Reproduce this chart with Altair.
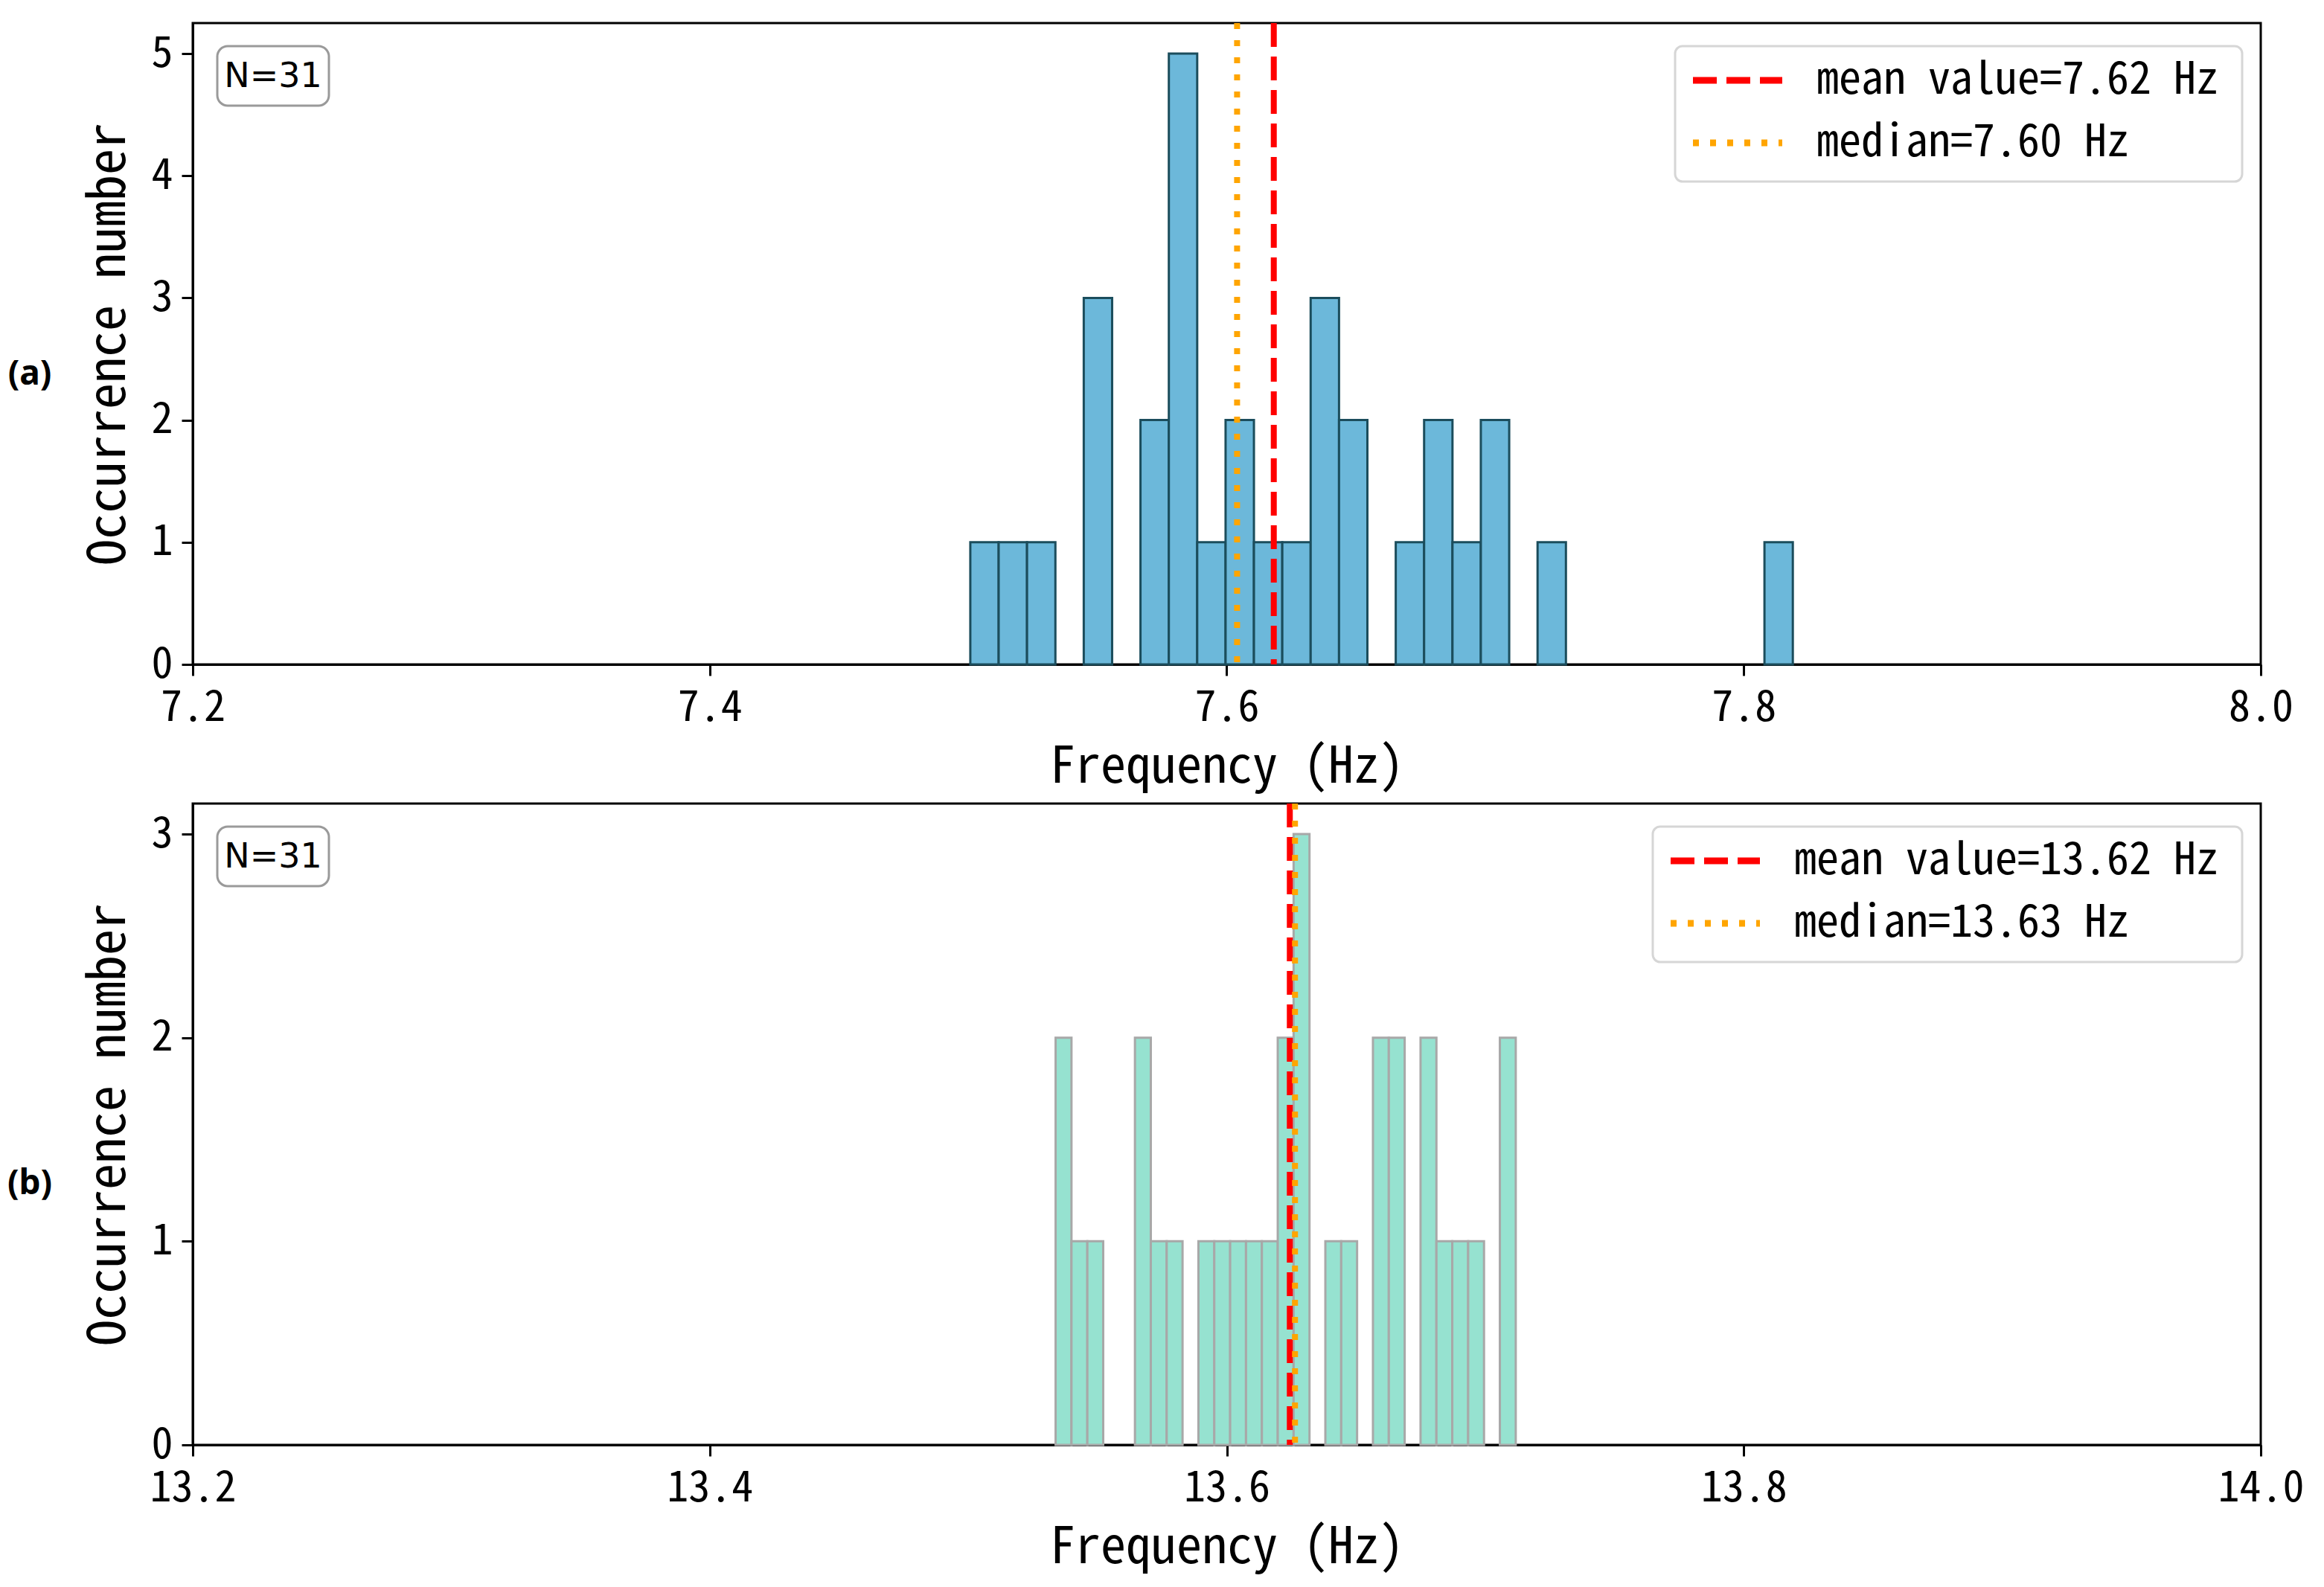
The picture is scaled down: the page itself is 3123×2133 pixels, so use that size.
import altair as alt
import pandas as pd

# ---------------- data ----------------
# panel (a)
a_bin_lo = 7.5008
a_bin_w = 0.010972
a_counts = [1, 1, 1, 0, 3, 0, 2, 5, 1, 2, 1, 1, 3, 2, 0, 1, 2, 1, 2, 0,
            1, 0, 0, 0, 0, 0, 0, 0, 1]
a_mean = 7.6182
a_median = 7.604
a_labels = ["mean value=7.62 Hz", "median=7.60 Hz"]
a_xdomain = [7.2, 8.0]
a_xticks = [7.2, 7.4, 7.6, 7.8, 8.0]
a_yticks = [0, 1, 2, 3, 4, 5]
a_ymax = 5.25

# panel (b)
b_bin_lo = 13.5338
b_bin_w = 0.006138
b_counts = [2, 1, 1, 0, 0, 2, 1, 1, 0, 1, 1, 1, 1, 1, 2, 3, 0, 1, 1, 0,
            2, 2, 0, 2, 1, 1, 1, 0, 2]
b_mean = 13.6244
b_median = 13.6264
b_labels = ["mean value=13.62 Hz", "median=13.63 Hz"]
b_xdomain = [13.2, 14.0]
b_xticks = [13.2, 13.4, 13.6, 13.8, 14.0]
b_yticks = [0, 1, 2, 3]
b_ymax = 3.15

n_label = "N=31"
y_title = "Occurrence number"
x_title = "Frequency (Hz)"
line_colors = ["#ff0000", "#ffa500"]
line_dashes = [[32, 13], [8, 15]]

# ---------------- style ----------------
W, H = 2779, 862
FONT = "Noto Sans Mono CJK SC, DejaVu Sans Mono, monospace"
CHAR_W = 30  # half-width glyph advance at the legend font size


def panel(bin_lo, bin_w, counts, mean, median, labels, xdom, xticks, yticks,
          ymax, fill, edge, tag, tag_y):
    hist = pd.DataFrame({
        "x0": [bin_lo + i * bin_w for i in range(len(counts))],
        "x1": [bin_lo + (i + 1) * bin_w for i in range(len(counts))],
        "count": counts,
    })
    hist = hist[hist["count"] > 0]

    xscale = alt.Scale(domain=xdom, nice=False, zero=False)
    yscale = alt.Scale(domain=[0, ymax], nice=False)

    xaxis = alt.Axis(values=xticks, format=".1f", title=x_title, grid=False,
                     labelFont=FONT, labelFontSize=58, labelColor="black",
                     titleFont=FONT, titleFontSize=68, titleFontWeight="normal",
                     titleColor="black", titlePadding=17, labelPadding=14,
                     tickSize=15, tickWidth=3, tickColor="black",
                     domainColor="black", domainWidth=3, labelFlush=False)
    yaxis = alt.Axis(values=yticks, format="d", title=y_title, grid=False,
                     labelFont=FONT, labelFontSize=58, labelColor="black",
                     titleFont=FONT, titleFontSize=70, titleFontWeight="normal",
                     titleColor="black", titlePadding=20, labelPadding=12,
                     tickSize=15, tickWidth=3, tickColor="black",
                     domainColor="black", domainWidth=3)

    bars = alt.Chart(hist).mark_bar(
        fill=fill, stroke=edge, strokeWidth=3, opacity=1
    ).encode(
        x=alt.X("x0:Q", scale=xscale, axis=xaxis),
        x2="x1:Q",
        y=alt.Y("count:Q", scale=yscale, axis=yaxis),
        y2=alt.datum(0),
    )

    layers = [bars]
    for val, col, dash in zip([mean, median], line_colors, line_dashes):
        layers.append(
            alt.Chart(pd.DataFrame({"x": [val]})).mark_rule(
                color=col, strokeWidth=8, strokeDash=dash
            ).encode(x=alt.X("x:Q", scale=xscale))
        )

    # legend box (top-right, inside the axes)
    box_r = W - 25
    box_l = box_r - (222 + max(len(s) for s in labels) * CHAR_W)
    layers.append(
        alt.Chart(pd.DataFrame({"t": ["legend"]})).mark_rect(
            fill="white", stroke="#d6d6d6", strokeWidth=3, cornerRadius=10
        ).encode(x=alt.value(box_l), x2=alt.value(box_r),
                 y=alt.value(31), y2=alt.value(213))
    )
    for row, (lab, col, dash) in enumerate(zip(labels, line_colors, line_dashes)):
        yy = 77 + row * 84
        layers.append(
            alt.Chart(pd.DataFrame({"t": [lab]})).mark_rule(
                color=col, strokeWidth=9, strokeDash=dash
            ).encode(x=alt.value(box_l + 24), x2=alt.value(box_l + 144), y=alt.value(yy))
        )
        layers.append(
            alt.Chart(pd.DataFrame({"t": [lab]})).mark_text(
                font=FONT, fontSize=60, color="black", align="left", baseline="middle"
            ).encode(text="t:N", x=alt.value(box_l + 190), y=alt.value(yy))
        )

    # N=31 box
    layers.append(
        alt.Chart(pd.DataFrame({"t": [n_label]})).mark_rect(
            fill="white", stroke="#9a9a9a", strokeWidth=3, cornerRadius=14
        ).encode(x=alt.value(33), x2=alt.value(183), y=alt.value(31), y2=alt.value(111))
    )
    layers.append(
        alt.Chart(pd.DataFrame({"t": [n_label]})).mark_text(
            font="DejaVu Sans", fontSize=46, color="black", align="center", baseline="middle"
        ).encode(text="t:N", x=alt.value(108), y=alt.value(72))
    )
    # panel tag
    layers.append(
        alt.Chart(pd.DataFrame({"t": [tag]})).mark_text(
            font="Noto Sans", fontSize=46, fontWeight="bold", color="black",
            align="center", baseline="middle"
        ).encode(text="t:N", x=alt.value(-219), y=alt.value(tag_y))
    )

    return alt.layer(*layers).properties(width=W, height=H)


pa = panel(a_bin_lo, a_bin_w, a_counts, a_mean, a_median, a_labels, a_xdomain,
           a_xticks, a_yticks, a_ymax, "#6cb8da", "#1b4d5c", "(a)", 472)
pb = panel(b_bin_lo, b_bin_w, b_counts, b_mean, b_median, b_labels, b_xdomain,
           b_xticks, b_yticks, b_ymax, "#96e2d0", "#a8a8a8", "(b)", 511)

chart = alt.vconcat(pa, pb, spacing=7).resolve_scale(
    x="independent", y="independent"
).properties(
    padding={"left": 0, "top": 17, "right": 0, "bottom": 20},
    background="white",
).configure_view(stroke="black", strokeWidth=3)

chart.save("out.html", embed_options={"renderer": "svg", "actions": False})
